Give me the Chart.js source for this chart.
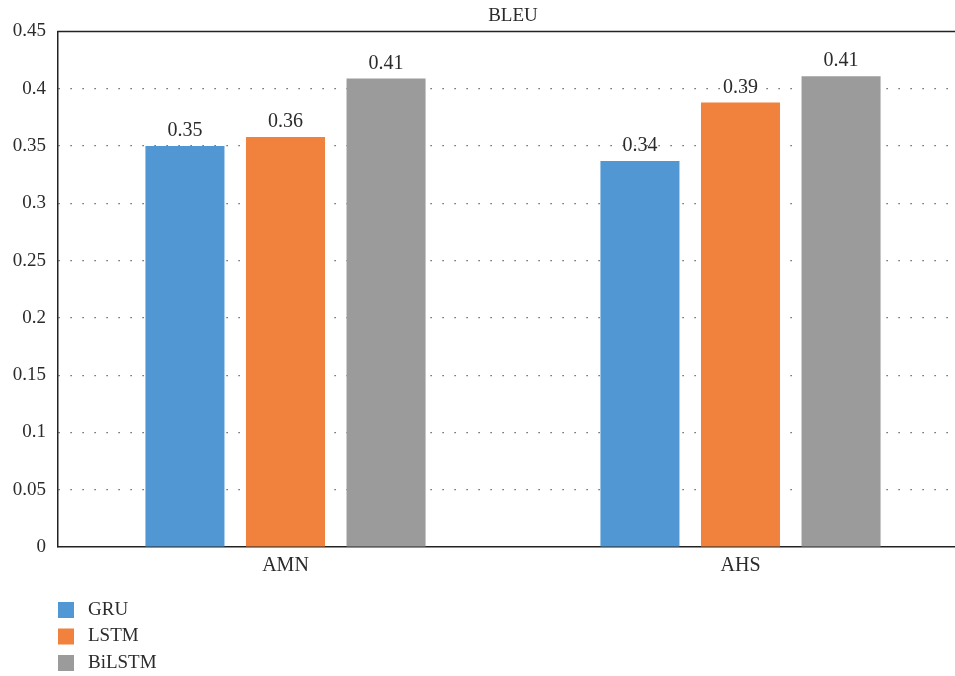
<!DOCTYPE html>
<html>
<head>
<meta charset="utf-8">
<script src="https://cdn.jsdelivr.net/npm/chart.js@4/dist/chart.umd.min.js"></script>
<style>
  html, body { margin: 0; padding: 0; background: #fff; overflow: hidden; }
  #wrap { position: relative; width: 968px; height: 676px; }
</style>
</head>
<body>
<div id="wrap"><canvas id="c"></canvas></div>
<script>
// BLEU scores per dataset and model
const categories = ['AMN', 'AHS'];
const seriesNames = ['GRU', 'LSTM', 'BiLSTM'];
const gruValues = [0.350, 0.337];
const lstmValues = [0.358, 0.388];
const bilstmValues = [0.409, 0.411];
const yTicks = [0, 0.05, 0.1, 0.15, 0.2, 0.25, 0.3, 0.35, 0.4, 0.45];
const chartTitle = 'BLEU';

const colors = ['#5097D3', '#F0823D', '#9B9B9C'];
const FONT = '"Liberation Serif", "DejaVu Serif", serif';
const TEXT = '#2b2b2b';

// Frame line, value labels, title and stacked legend
const decor = {
  id: 'decor',
  afterDatasetsDraw(chart) {
    const ctx = chart.ctx;
    const a = chart.chartArea;
    ctx.save();
    // top frame line
    ctx.strokeStyle = '#222';
    ctx.lineWidth = 1.5;
    ctx.beginPath();
    ctx.moveTo(a.left - 0.75, a.top);
    ctx.lineTo(a.right, a.top);
    ctx.stroke();

    // value labels
    ctx.fillStyle = TEXT;
    ctx.font = '20px ' + FONT;
    ctx.textAlign = 'center';
    ctx.textBaseline = 'bottom';
    chart.data.datasets.forEach((ds, i) => {
      chart.getDatasetMeta(i).data.forEach((bar, j) => {
        ctx.fillText(ds.data[j].toFixed(2), bar.x, bar.y - 5);
      });
    });

    // title
    ctx.font = '19px ' + FONT;
    ctx.textBaseline = 'middle';
    ctx.fillText(chartTitle, (a.left + a.right) / 2, 16);

    // legend
    ctx.textAlign = 'left';
    ctx.font = '19px ' + FONT;
    chart.data.datasets.forEach((ds, i) => {
      const y = 602 + i * 26.5;
      ctx.fillStyle = ds.backgroundColor;
      ctx.fillRect(a.left, y, 16, 16);
      ctx.fillStyle = TEXT;
      ctx.fillText(ds.label, a.left + 30, y + 8);
    });
    ctx.restore();
  }
};

new Chart(document.getElementById('c'), {
  type: 'bar',
  data: {
    labels: categories,
    datasets: [
      { label: seriesNames[0], data: gruValues, backgroundColor: colors[0] },
      { label: seriesNames[1], data: lstmValues, backgroundColor: colors[1] },
      { label: seriesNames[2], data: bilstmValues, backgroundColor: colors[2] }
    ]
  },
  options: {
    responsive: true,
    maintainAspectRatio: false,
    animation: false,
    layout: { padding: { top: 31.5, right: 0, bottom: 89, left: 0 } },
    datasets: { bar: { categoryPercentage: 0.663, barPercentage: 0.786 } },
    plugins: {
      legend: { display: false },
      title: { display: false },
      tooltip: { enabled: false }
    },
    scales: {
      x: {
        grid: { display: false, drawTicks: false },
        border: { display: true, color: '#222', width: 1.5 },
        ticks: { color: TEXT, font: { family: FONT, size: 20 }, padding: 7 },
        afterFit(s) { s.height = 40; }
      },
      y: {
        min: 0,
        max: 0.45,
        afterBuildTicks(s) { s.ticks = yTicks.map(v => ({ value: v })); },
        grid: {
          color: c => (c.index === 0 || c.index === yTicks.length - 1) ? 'rgba(0,0,0,0)' : '#444',
          lineWidth: 1.2,
          drawTicks: false
        },
        border: { display: true, color: '#222', width: 1.5, dash: [1.2, 10.8] },
        ticks: {
          color: TEXT,
          font: { family: FONT, size: 19 },
          padding: 12,
          callback: v => String(v)
        },
        afterFit(s) { s.width = 58; }
      }
    }
  },
  plugins: [decor]
});
</script>
</body>
</html>
